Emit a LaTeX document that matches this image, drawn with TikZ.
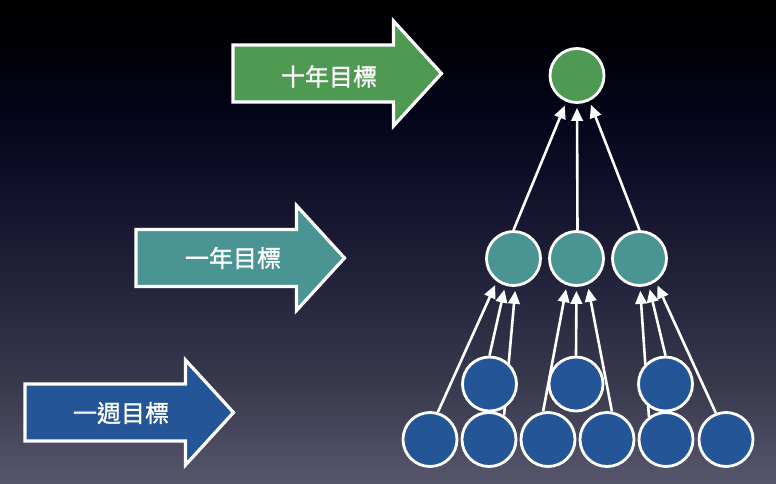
\documentclass[tikz,border=0pt]{standalone}
\usepackage{fontspec}
\newfontfamily\cjk[FakeBold=1.2]{Noto Sans CJK TC}
\usetikzlibrary{arrows.meta,calc}
\definecolor{goalgreen}{HTML}{4F9A52}
\definecolor{goalteal}{HTML}{4A9593}
\definecolor{goalblue}{HTML}{245597}
\definecolor{bga}{HTML}{57566C}
\definecolor{bgb}{HTML}{38384D}
\definecolor{bgc}{HTML}{1E1E37}
\definecolor{bgd}{HTML}{0F0F29}
\definecolor{bge}{HTML}{05051C}
\definecolor{bgf}{HTML}{000005}
\definecolor{bgg}{HTML}{000000}
\pgfdeclareverticalshading{bgshade}{100bp}{color(0bp)=(bga); color(25bp)=(bga); color(35.7bp)=(bgb); color(48.1bp)=(bgc); color(56.4bp)=(bgd); color(62.6bp)=(bge); color(70.9bp)=(bgf); color(75bp)=(bgg); color(100bp)=(bgg)}
\pgfdeclarelayer{back}
\pgfdeclarelayer{conn}
\pgfsetlayers{back,conn,main}
\tikzset{
  goalnode/.style={circle, draw=white, line width=2.8pt, minimum size=54pt, inner sep=0pt, outer sep=1.4pt},
  bigarrow/.style={draw=white, line width=3.2pt, line join=miter, miter limit=10},
  lbl/.style={font=\cjk\fontsize{24}{24}\selectfont, text=white, inner sep=0pt},
  conn/.style={draw=white, line width=2.6pt, -{Triangle[length=13pt,width=11.5pt]}, shorten >=4pt}
}
\newcommand\goalarrowshape[3]{%
  \draw[bigarrow, fill=#3] (#1,{#2-28.5}) -- ({#1+160.5},{#2-28.5}) -- ({#1+160.5},{#2-52.5})
    -- ({#1+208.5},#2) -- ({#1+160.5},{#2+52.5}) -- ({#1+160.5},{#2+28.5}) -- (#1,{#2+28.5}) -- cycle;}
\begin{document}
\begin{tikzpicture}[x=1pt,y=-1pt]
\begin{pgfonlayer}{back}
\shade[shading=bgshade] (0,0) rectangle (776,484);
\end{pgfonlayer}
\useasboundingbox (0,0) rectangle (776,484);

% block arrows
\goalarrowshape{233}{73.5}{goalgreen}
\goalarrowshape{136}{258}{goalteal}
\goalarrowshape{25}{412.5}{goalblue}
\node[lbl] (ten) at (329,76.5) {十年目標};
\node[lbl] (one) at (233,258) {一年目標};
\node[lbl] (week) at (121,413) {一週目標};

% circles
\node[goalnode, fill=goalgreen] (t) at (577,75.5) {};
\node[goalnode, fill=goalteal] (m1) at (513.5,258.5) {};
\node[goalnode, fill=goalteal] (m2) at (576.5,258.5) {};
\node[goalnode, fill=goalteal] (m3) at (639.5,258.5) {};
\node[goalnode, fill=goalblue] (s1) at (489.5,384) {};
\node[goalnode, fill=goalblue] (s2) at (576,384) {};
\node[goalnode, fill=goalblue] (s3) at (665.5,384) {};
\node[goalnode, fill=goalblue] (b1) at (430,439.5) {};
\node[goalnode, fill=goalblue] (b2) at (489,439.5) {};
\node[goalnode, fill=goalblue] (b3) at (548,439.5) {};
\node[goalnode, fill=goalblue] (b4) at (607,439.5) {};
\node[goalnode, fill=goalblue] (b5) at (666,439.5) {};
\node[goalnode, fill=goalblue] (b6) at (726,439.5) {};

\begin{pgfonlayer}{conn}
\draw[conn] (m1.90) -- (t.248);
\draw[conn] (m2.88) -- (t.270);
\draw[conn] (m3.90) -- (t.296);

\draw[conn] (b1.74) -- (m1.234);
\draw[conn] (s1.90) -- (m1.253);
\draw[conn] (b2.58) -- (m1.274);

\draw[conn] (b3.100) -- (m2.250);
\draw[conn] (s2.90) -- (m2.270);
\draw[conn] (b4.80) -- (m2.293);

\draw[conn] (b5.127) -- (m3.271);
\draw[conn] (s3.90) -- (m3.289);
\draw[conn] (b6.111) -- (m3.305);
\end{pgfonlayer}
\end{tikzpicture}
\end{document}
